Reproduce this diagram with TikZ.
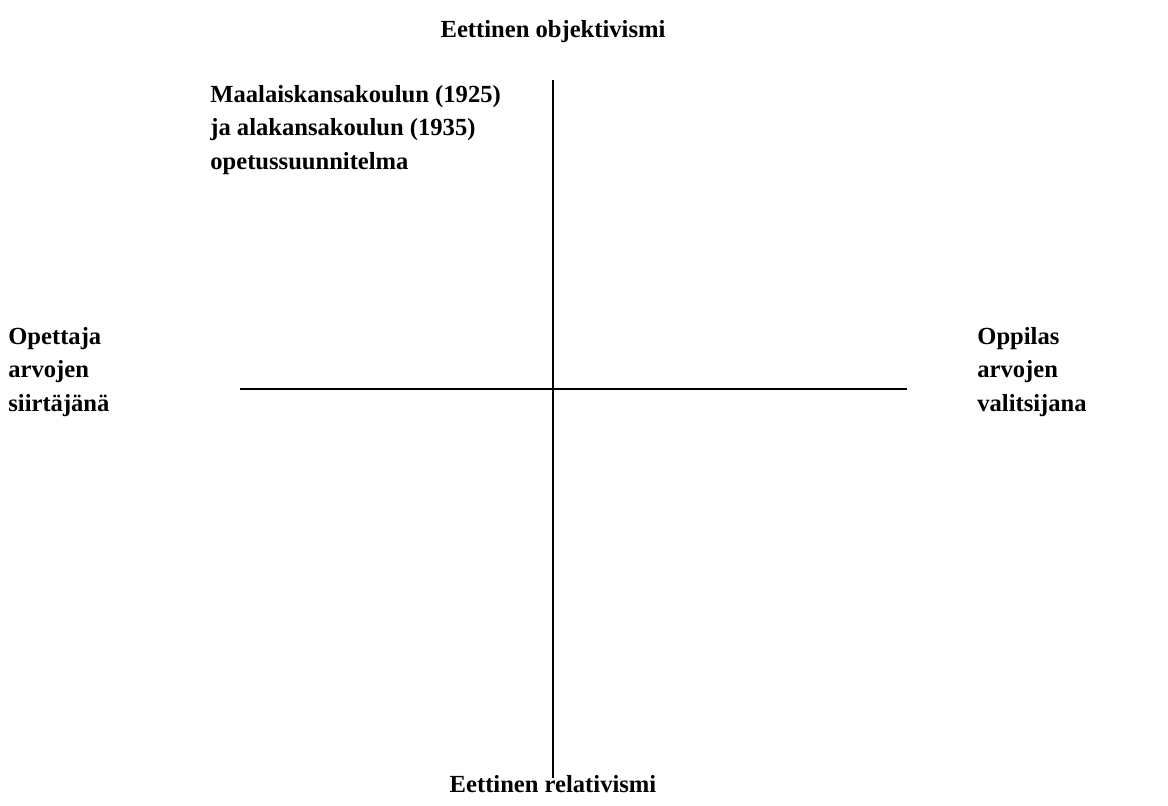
\documentclass[tikz,border=0pt]{standalone}
\usepackage{fontspec}
\setmainfont{Liberation Serif}
\usetikzlibrary{positioning}

\begin{document}
\begin{tikzpicture}[x=0.02cm, y=-0.02cm,
  lbl/.style={font=\fontsize{14}{19}\selectfont\bfseries, inner sep=0pt, align=left},
  axis/.style={line width=1.1pt}]
  \useasboundingbox (0,0) rectangle (1168,805);
  % axes
  \coordinate (ntop) at (553,80);
  \coordinate (nbot) at (553,778);
  \coordinate (wend) at (240,389);
  \coordinate (eend) at (907,389);
  \draw[axis] (ntop) -- (nbot);
  \draw[axis] (wend) -- (eend);
  % end labels
  \node[lbl] (obj) at (553,32) {Eettinen objektivismi};
  \node[lbl] (rel) at (553,784) {Eettinen relativismi};
  \node[lbl, anchor=west] (teach) at (8,372) {Opettaja\\arvojen\\siirtäjänä};
  \node[lbl, anchor=west] (pupil) at (977,372) {Oppilas\\arvojen\\valitsijana};
  % quadrant
  \node[lbl, anchor=west] (plan) at (210,130) {Maalaiskansakoulun (1925)\\ja alakansakoulun (1935)\\opetussuunnitelma};
\end{tikzpicture}
\end{document}
